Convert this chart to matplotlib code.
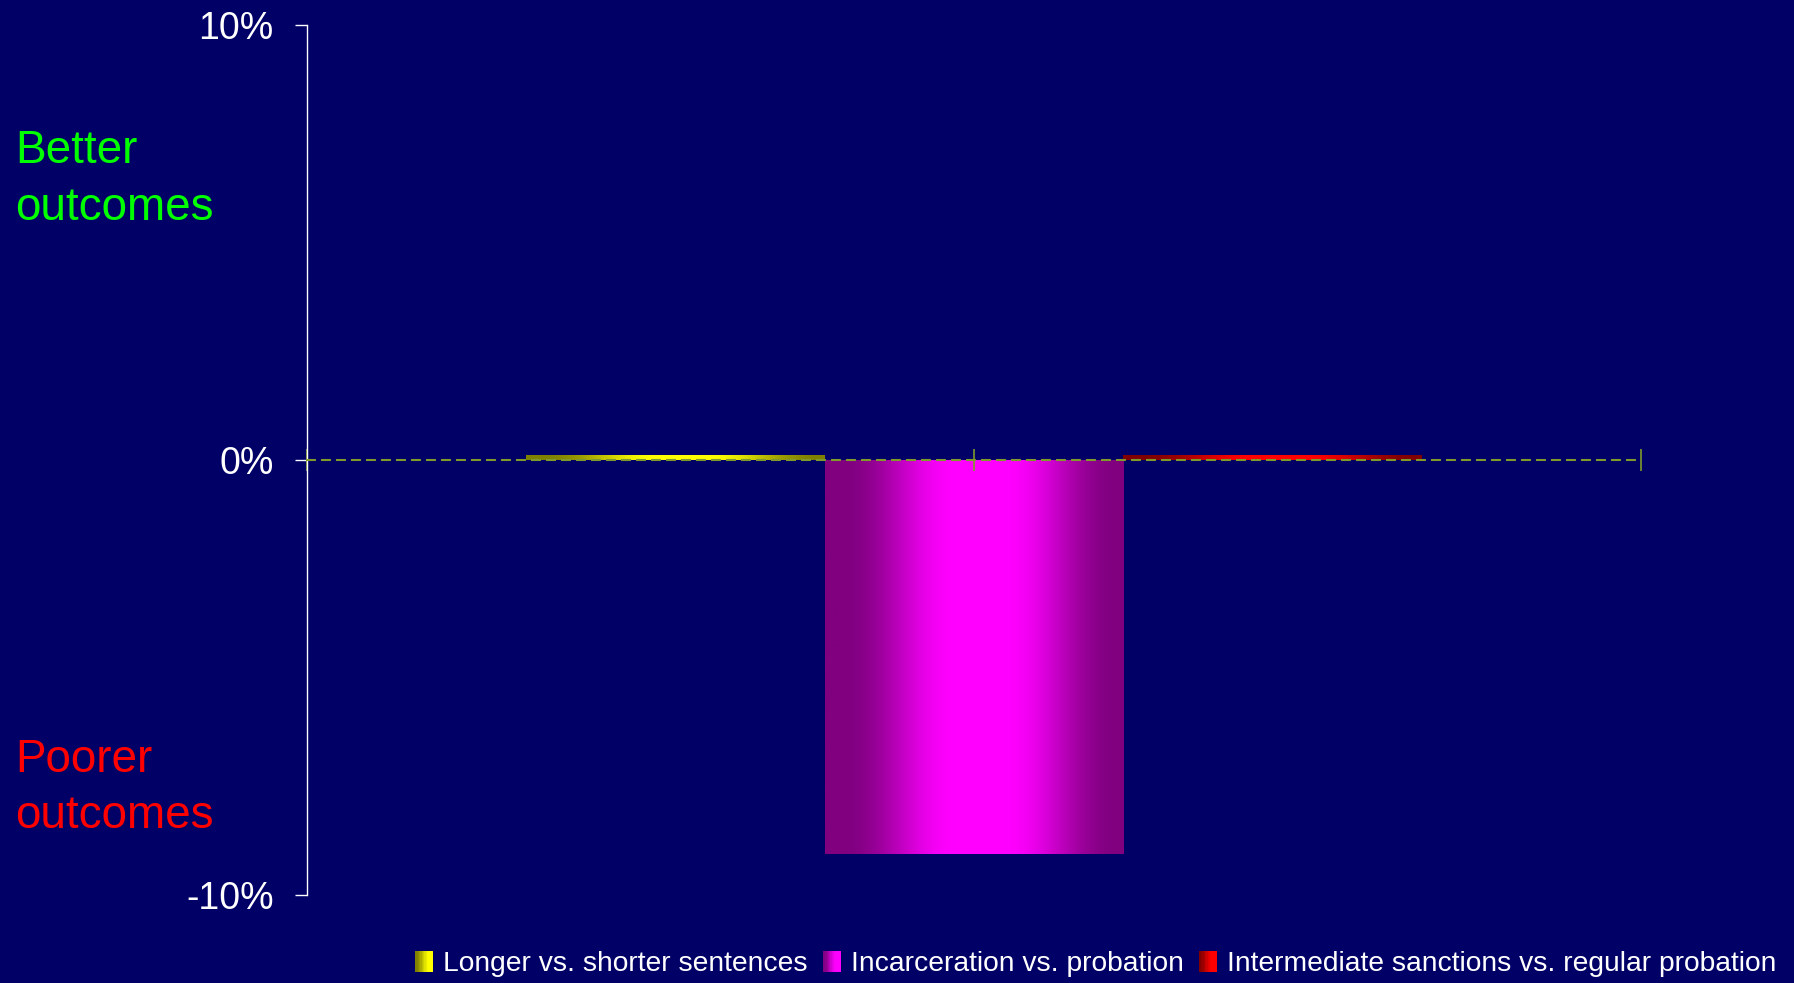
import numpy as np
import matplotlib
matplotlib.use("Agg")
import matplotlib.pyplot as plt
from matplotlib.patches import Rectangle
from matplotlib.legend_handler import HandlerBase
from matplotlib.colors import to_rgb
from matplotlib import font_manager

# ---- data ----
category = ["All"]
series_names = ["Longer vs. shorter sentences",
                "Incarceration vs. probation",
                "Intermediate sanctions vs. regular probation"]
series_values = [0.0012, -0.0905, 0.0012]
series_bright = ["#ffff00", "#ff00ff", "#ff0000"]
series_dark = ["#808000", "#800080", "#800000"]
yticks = [-0.10, 0.0, 0.10]
ytick_labels = ["-10%", "0%", "10%"]

BG = "#000066"
OLIVE = "#7f9a2a"
FONT = ["Liberation Sans", "DejaVu Sans"]
plt.rcParams["font.family"] = FONT

installed = {f.name for f in font_manager.fontManager.ttflist}
if "Liberation Sans Narrow" in installed:
    LEG_FONT = ["Liberation Sans Narrow", "DejaVu Sans"]
    LEG_SIZE = 24
else:
    LEG_FONT = FONT
    LEG_SIZE = 20.3

fig = plt.figure(figsize=(17.94, 9.83), dpi=100, facecolor=BG)
ax = fig.add_axes([307 / 1794, 1 - 895 / 983, (1641 - 307) / 1794, (895 - 25) / 983])
ax.set_facecolor(BG)


def profile(t):
    f = np.clip(1 - (np.abs(t - 0.52) - 0.08) / 0.38, 0, 1)
    return 0.5 - 0.5 * np.cos(np.pi * f)


def grad_colors(dark, bright, t):
    d = np.array(to_rgb(dark))
    b = np.array(to_rgb(bright))
    f = profile(t)[:, None]
    return d + (b - d) * f


width = 0.2237
x = np.arange(len(category))
handles = []
for i, (name, val) in enumerate(zip(series_names, series_values)):
    bars = ax.bar(x + (i - 1) * width, [val], width=width, facecolor="none",
                  edgecolor="none", label=name, zorder=1)
    for p in bars.patches:
        x0, w = p.get_x(), p.get_width()
        y0, h = p.get_y(), p.get_height()
        t = np.linspace(0, 1, 200)
        arr = grad_colors(series_dark[i], series_bright[i], t)[None, :, :]
        im = ax.imshow(arr, extent=(x0, x0 + w, min(y0, y0 + h), max(y0, y0 + h)),
                       aspect="auto", interpolation="bilinear", zorder=1.5)
        im.set_clip_path(p)
    h0 = bars.patches[0]
    h0._grad = (series_dark[i], series_bright[i])
    handles.append(h0)

ax.set_xlim(-0.5, 0.5)
ax.set_ylim(-0.10, 0.10)

# spines
for s in ["top", "right"]:
    ax.spines[s].set_visible(False)
ax.spines["left"].set_color("white")
ax.spines["left"].set_linewidth(1.0)
ax.spines["bottom"].set_position(("data", 0))
ax.spines["bottom"].set_color(OLIVE)
ax.spines["bottom"].set_linewidth(1.5)
ax.spines["bottom"].set_linestyle((0, (3.8, 3.4)))
ax.spines["bottom"].set_zorder(3)

ax.set_yticks(yticks)
ax.set_yticklabels(ytick_labels)
ax.tick_params(axis="y", colors="white", direction="out", length=8.6, width=1.0,
               labelsize=27, pad=15.5)
ax.set_xticks([-0.5, 0.0, 0.5])
ax.set_xticklabels([])
ax.tick_params(axis="x", colors=OLIVE, direction="inout", length=16, width=1.2)

# side labels
fig.text(15 / 1794, 1 - 163 / 983, "Better", color="#00ff00", fontsize=33, va="baseline", ha="left")
fig.text(15 / 1794, 1 - 220 / 983, "outcomes", color="#00ff00", fontsize=33, va="baseline", ha="left")
fig.text(15 / 1794, 1 - 772 / 983, "Poorer", color="#ff0000", fontsize=33, va="baseline", ha="left")
fig.text(15 / 1794, 1 - 828 / 983, "outcomes", color="#ff0000", fontsize=33, va="baseline", ha="left")


class GradHandler(HandlerBase):
    def create_artists(self, legend, orig_handle, xdescent, ydescent, width, height,
                       fontsize, trans):
        dark, bright = orig_handle._grad
        n = 14
        arts = []
        for k in range(n):
            t = 0.05 + 0.5 * (k + 0.5) / n
            c = grad_colors(dark, bright, np.array([t]))[0]
            r = Rectangle((-xdescent + k * width / n, -ydescent), width / n * 1.08, height,
                          facecolor=c, edgecolor="none", transform=trans)
            arts.append(r)
        return arts


leg_px = LEG_SIZE * 100 / 72
leg = fig.legend(handles=handles, labels=series_names, loc="center right",
                 bbox_to_anchor=(1776 / 1794, 1 - 964 / 983), ncol=3, frameon=False,
                 prop={"family": LEG_FONT, "size": LEG_SIZE},
                 handlelength=18 / leg_px, handleheight=22 / leg_px,
                 handletextpad=10 / leg_px, columnspacing=15 / leg_px,
                 borderpad=0, borderaxespad=0,
                 handler_map={Rectangle: GradHandler()})
for txt in leg.get_texts():
    txt.set_color("white")

fig.savefig("out.png", dpi=100, facecolor=BG)
